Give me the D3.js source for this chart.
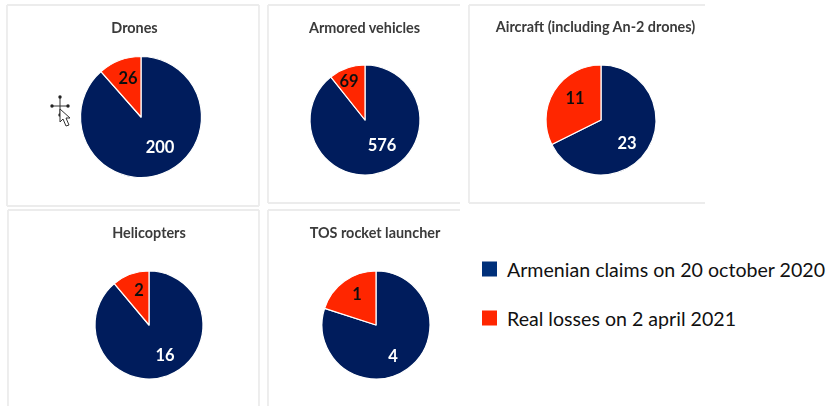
<!DOCTYPE html>
<html><head><meta charset="utf-8">
<script src="https://cdn.jsdelivr.net/npm/d3@7"></script>
<style>html,body{margin:0;padding:0;background:#fff}svg{display:block}text{font-family:Lato,Carlito,sans-serif}</style>
</head><body><svg id="c" width="827" height="407"></svg>
<script>
const categories = ["Drones","Armored vehicles","Aircraft (including An-2 drones)","Helicopters","TOS rocket launcher"];
const armenianClaims = [200,576,23,16,4];
const realLosses = [26,69,11,2,1];
const seriesNames = ["Armenian claims on 20 october 2020","Real losses on 2 april 2021"];
const colors = ["#001f5c","#ff2600"];

// layout only: panel box, pie centre/radius, label offsets from the centre
const layout = [
 {x:7,y:5,w:252,h:201,cx:141,cy:117,r:60.5,tx:134.5,ty:27,l0:[19,30],l1:[-13,-39],open:false},
 {x:268,y:5,w:192,h:198,cx:365,cy:120,r:55,tx:364.5,ty:27,l0:[17,25],l1:[-16,-39],open:"right"},
 {x:469,y:5,w:236,h:198,cx:601,cy:120,r:55,tx:595.5,ty:26,l0:[26,23],l1:[-26,-22],open:"right"},
 {x:8,y:210,w:251,h:196,cx:149,cy:325,r:54,tx:149,ty:232.5,l0:[16,30],l1:[-10,-35],open:"bottom"},
 {x:268,y:210,w:192,h:196,cx:376,cy:325,r:54,tx:375,ty:232.5,l0:[17,31],l1:[-19,-31],open:"rb"}
];

const svg = d3.select("#c");
const defs = svg.append("defs");
defs.append("filter").attr("id","soft").attr("x","-5%").attr("y","-5%").attr("width","110%").attr("height","110%")
  .append("feGaussianBlur").attr("stdDeviation",0.6);

const pie = d3.pie().sort(null).value(d=>d);
const chartLayer = svg.append("g").attr("filter","url(#soft)");
const border = "#ececec";

categories.forEach((name,i)=>{
  const b = layout[i];
  const g = chartLayer.append("g");
  const edges = [[b.x,b.y,b.x+b.w,b.y],[b.x,b.y,b.x,b.y+b.h]];
  if(b.open!=="right" && b.open!=="rb") edges.push([b.x+b.w,b.y,b.x+b.w,b.y+b.h]);
  if(b.open!=="bottom" && b.open!=="rb") edges.push([b.x,b.y+b.h,b.x+b.w,b.y+b.h]);
  g.selectAll("line").data(edges).join("line")
    .attr("x1",d=>d[0]).attr("y1",d=>d[1]).attr("x2",d=>d[2]).attr("y2",d=>d[3])
    .attr("stroke",border).attr("stroke-width",1.8);

  const vals = [armenianClaims[i],realLosses[i]];
  const arc = d3.arc().innerRadius(0).outerRadius(b.r);
  const p = g.append("g").attr("transform",`translate(${b.cx},${b.cy})`);
  p.selectAll("path").data(pie(vals)).join("path")
    .attr("d",arc).attr("fill",(d,j)=>colors[j])
    .attr("stroke","#fff").attr("stroke-width",1.2).attr("stroke-linejoin","round");
  p.selectAll("text").data(vals).join("text")
    .attr("x",(d,j)=>(j?b.l1:b.l0)[0]).attr("y",(d,j)=>(j?b.l1:b.l0)[1])
    .attr("text-anchor","middle").attr("dominant-baseline","central")
    .attr("font-size",16.5).attr("font-weight",700)
    .attr("fill",(d,j)=>j?"#111":"#fff").text(d=>d);

  g.append("text").attr("x",b.tx).attr("y",b.ty)
    .attr("text-anchor","middle").attr("dominant-baseline","central")
    .attr("font-size",14.4).attr("font-weight",700).attr("fill","#3a3a3a").text(name);
});

// move cursor left in the screenshot
const cur = chartLayer.append("g").attr("transform","translate(60,106)").attr("fill","#222").attr("stroke","none");
cur.append("path").attr("d","M0-9V9M-9 0H9").attr("stroke","#333").attr("stroke-width",1);
[[0,-9],[0,9],[-8,0],[8,0]].forEach(d=>cur.append("circle").attr("cx",d[0]).attr("cy",d[1]).attr("r",1.7));
cur.append("path").attr("d","M0 3L0 16L3 13L6 20L9 19L6 12L10 12Z").attr("fill","#fff").attr("stroke","#333").attr("stroke-width",1);

// legend
const leg = svg.append("g");
const legY = [269,318];
seriesNames.forEach((s,i)=>{
  leg.append("rect").attr("x",482).attr("y",legY[i]-7.5).attr("width",15).attr("height",15).attr("fill",i?colors[1]:"#00307a");
  leg.append("text").attr("x",507).attr("y",legY[i]).attr("dominant-baseline","central")
    .attr("font-size",19.6).attr("fill","#111").text(s);
});
</script></body></html>
